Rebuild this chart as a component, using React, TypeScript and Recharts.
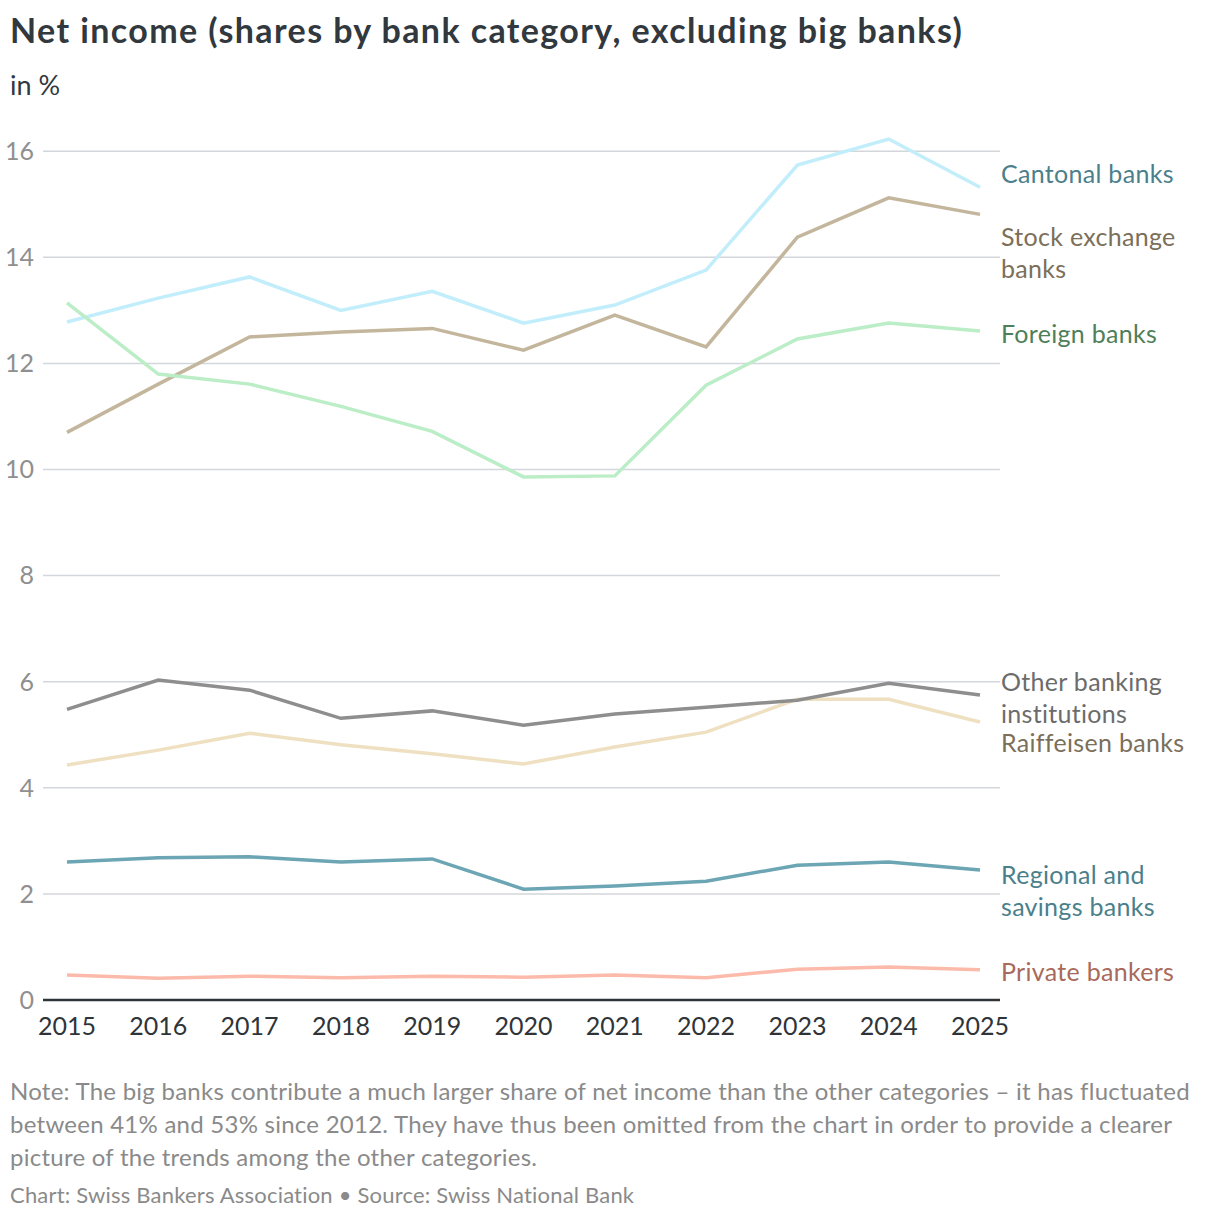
import { LineChart, Line, XAxis, YAxis, CartesianGrid, LabelList } from 'recharts'

const years = ['2015', '2016', '2017', '2018', '2019', '2020', '2021', '2022', '2023', '2024', '2025']
const yTicks = [0, 2, 4, 6, 8, 10, 12, 14, 16]

const cantonal = [12.78, 13.23, 13.63, 13.0, 13.36, 12.76, 13.1, 13.76, 15.74, 16.23, 15.32]
const stockExchange = [10.7, 11.61, 12.5, 12.59, 12.66, 12.25, 12.91, 12.31, 14.38, 15.12, 14.81]
const foreign = [13.14, 11.8, 11.61, 11.19, 10.72, 9.86, 9.88, 11.59, 12.46, 12.76, 12.61]
const otherBanking = [5.48, 6.03, 5.84, 5.31, 5.45, 5.18, 5.39, 5.52, 5.65, 5.97, 5.75]
const raiffeisen = [4.43, 4.71, 5.03, 4.81, 4.64, 4.45, 4.77, 5.05, 5.67, 5.67, 5.24]
const regional = [2.6, 2.68, 2.7, 2.6, 2.66, 2.09, 2.15, 2.24, 2.54, 2.6, 2.45]
const privateBankers = [0.47, 0.41, 0.45, 0.42, 0.45, 0.43, 0.47, 0.42, 0.58, 0.62, 0.57]

const data = years.map((year, i) => ({
  year,
  cantonal: cantonal[i],
  stockExchange: stockExchange[i],
  foreign: foreign[i],
  otherBanking: otherBanking[i],
  raiffeisen: raiffeisen[i],
  regional: regional[i],
  privateBankers: privateBankers[i],
}))

// line colour, label colour, label lines, vertical nudge of the end label
const series = [
  { key: 'cantonal', stroke: '#c2eefb', text: '#4b7f8b', label: ['Cantonal banks'], dy: -14 },
  { key: 'stockExchange', stroke: '#c3b69c', text: '#7b6f59', label: ['Stock exchange', 'banks'], dy: 22 },
  { key: 'foreign', stroke: '#bbedc6', text: '#4f7f59', label: ['Foreign banks'], dy: 2 },
  { key: 'raiffeisen', stroke: '#eee0c1', text: '#7b6f59', label: ['Raiffeisen banks'], dy: 20 },
  { key: 'otherBanking', stroke: '#8e8e8e', text: '#6c6c6c', label: ['Other banking', 'institutions'], dy: -14 },
  { key: 'regional', stroke: '#6ca5b3', text: '#4b7f8b', label: ['Regional and', 'savings banks'], dy: 4 },
  { key: 'privateBankers', stroke: '#fcbaab', text: '#a9695b', label: ['Private bankers'], dy: 1 },
]

const FONT = 'Lato, "Open Sans", sans-serif'

function endLabel(s: (typeof series)[number]) {
  return (props: any) => {
    const { x, y, index } = props
    if (index !== years.length - 1) return null
    return (
      <text
        x={x + 21}
        y={y + s.dy}
        fill={s.text}
        fontSize={25}
        letterSpacing={0.3}
        fontFamily={FONT}
        dominantBaseline="central"
      >
        {s.label.map((line, i) => (
          <tspan key={i} x={x + 21} dy={i === 0 ? 0 : 32}>
            {line}
          </tspan>
        ))}
      </text>
    )
  }
}

export default function App() {
  return (
    <div
      style={{
        position: 'absolute',
        top: 0,
        left: 0,
        width: 1220,
        height: 1222,
        background: '#fff',
        fontFamily: FONT,
        overflow: 'hidden',
      }}
    >
      <div
        style={{
          position: 'absolute',
          left: 10,
          top: 9,
          fontSize: 34,
          letterSpacing: 1.4,
          fontWeight: 700,
          color: '#31383e',
          whiteSpace: 'nowrap',
        }}
      >
        Net income (shares by bank category, excluding big banks)
      </div>
      <div style={{ position: 'absolute', left: 10, top: 68, fontSize: 27, color: '#31383e' }}>in %</div>

      <div style={{ position: 'absolute', left: 0, top: 0 }}>
        <LineChart width={1220} height={1050} data={data} margin={{ top: 130, right: 220, bottom: 10, left: 0 }}>
          <CartesianGrid vertical={false} horizontalValues={yTicks} syncWithTicks stroke="#d3d6da" strokeWidth={1.5} />
          <XAxis
            dataKey="year"
            padding={{ left: 24, right: 20 }}
            height={40}
            tickLine={false}
            tickSize={0}
            tickMargin={17}
            axisLine={{ stroke: '#2f3438', strokeWidth: 2.5 }}
            tick={{ fill: '#2f3438', fontSize: 25, fontFamily: FONT }}
            interval={0}
          />
          <YAxis
            domain={[0, 16.4]}
            ticks={yTicks}
            width={43}
            axisLine={false}
            tickLine={false}
            tickSize={0}
            tickMargin={9}
            tick={{ fill: '#8f8f8f', fontSize: 25, fontFamily: FONT }}
          />
          {series.map((s) => (
            <Line
              key={s.key}
              type="linear"
              dataKey={s.key}
              stroke={s.stroke}
              strokeWidth={3.5}
              dot={false}
              activeDot={false}
              isAnimationActive={false}
            >
              <LabelList dataKey={s.key} content={endLabel(s)} />
            </Line>
          ))}
        </LineChart>
      </div>

      <div
        style={{
          position: 'absolute',
          left: 10,
          top: 1074,
          fontSize: 24,
          letterSpacing: 0.25,
          lineHeight: '33px',
          color: '#8a8a8a',
          whiteSpace: 'nowrap',
        }}
      >
        Note: The big banks contribute a much larger share of net income than the other categories – it has fluctuated
        <br />
        between 41% and 53% since 2012. They have thus been omitted from the chart in order to provide a clearer
        <br />
        picture of the trends among the other categories.
      </div>
      <div
        style={{
          position: 'absolute',
          left: 10,
          top: 1181,
          fontSize: 22,
          letterSpacing: 0.2,
          color: '#8a8a8a',
          whiteSpace: 'nowrap',
        }}
      >
        Chart: Swiss Bankers Association • Source: Swiss National Bank
      </div>
    </div>
  )
}
